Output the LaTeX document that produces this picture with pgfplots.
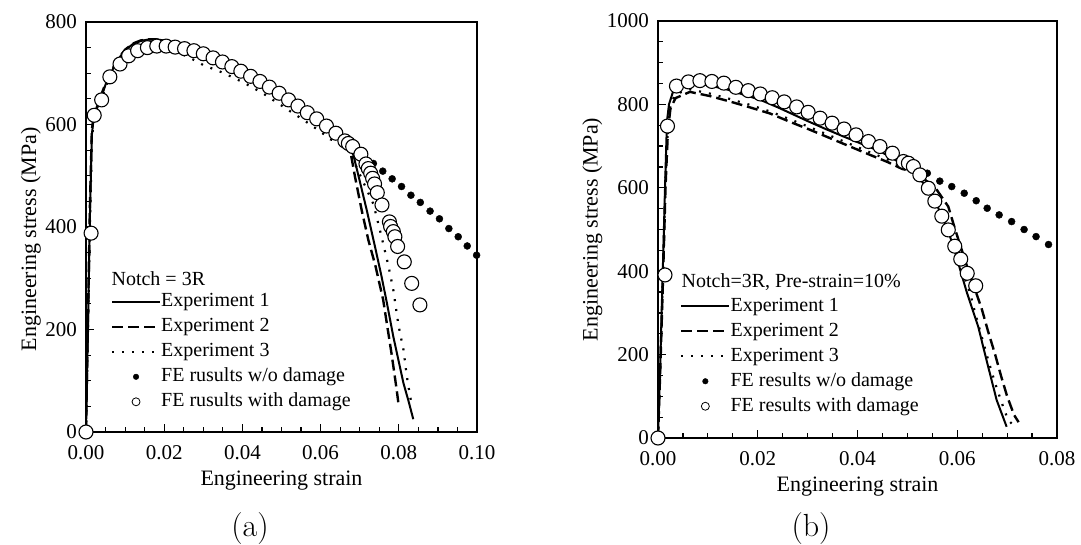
\documentclass[border=0pt]{standalone}
\usepackage{fontspec}
\setmainfont{Liberation Serif}
\usepackage{pgfplots}
\pgfplotsset{compat=1.18}

\pgfplotsset{
  tensile/.style={
    scale only axis,
    axis line style={line width=1.4pt},
    every tick/.style={black, line width=1.2pt},
    major tick length=8pt, minor tick length=5pt,
    tick align=inside, tick pos=left,
    scaled x ticks=false,
    /pgf/number format/assume math mode=true,
    /pgf/number format/1000 sep={},
    xticklabel style={inner sep=1pt, yshift=-12pt, /pgf/number format/.cd, fixed, fixed zerofill, precision=2},
    yticklabel style={inner sep=1pt, xshift=-8pt, /pgf/number format/.cd, fixed, precision=0},
    tick label style={font=\fontsize{21}{24}\selectfont},
    label style={font=\fontsize{22}{26}\selectfont},
    xlabel style={yshift=-7pt},
    minor x tick num=3, minor y tick num=3,
    legend cell align=left,
    legend style={draw=none, fill=none, inner sep=0pt,
      font=\fontsize{20}{24}\selectfont,
      nodes={inner sep=0pt, text height=14pt, text depth=4pt},
      row sep=7pt,
      /tikz/every even column/.append style={column sep=3pt}},
    xlabel={Engineering strain},
    ylabel={Engineering stress (MPa)},
  },
  exp1/.style={black, line width=2pt, no markers,
    legend image code/.code={\draw[##1] (0pt,0pt) -- (48pt,0pt);}},
  exp2/.style={black, line width=2.4pt, no markers, dash pattern=on 11pt off 5pt,
    legend image code/.code={\draw[##1] (0pt,0pt) -- (48pt,0pt);}},
  exp3/.style={black, line width=2.2pt, no markers, dash pattern=on 2pt off 8pt,
    legend image code/.code={\draw[##1] (0pt,0pt) -- (48pt,0pt);}},
  fenod/.style={only marks, mark=*, mark size=3.5pt, mark options={fill=black, draw=black},
    legend image code/.code={\draw[##1, only marks, mark size=2.8pt] plot coordinates {(24pt,0pt)};}},
  fedam/.style={only marks, mark=*, mark size=7pt,
    mark options={fill=white, draw=black, line width=1.1pt},
    legend image code/.code={\draw[##1, only marks, mark size=4pt,
      mark options={fill=white, draw=black, line width=0.8pt}] plot coordinates {(24pt,0pt)};}},
}

\begin{document}
\begin{tikzpicture}

% ---------------- (a) ----------------
\begin{axis}[tensile,
  at={(86pt,-432pt)}, anchor=south west,
  width=391pt, height=410pt,
  xmin=0, xmax=0.1, ymin=0, ymax=800,
  xtick={0,0.02,...,0.1}, ytick={0,200,...,800},
  ylabel style={at={(ticklabel cs:0.47)}},
  legend style={at={(axis cs:0.0063,272)}, anchor=north west},
]
% Experiment 1
\addplot[exp1] coordinates {
 (0,0) (0.0005,200) (0.0010,420) (0.0015,580) (0.0020,615) (0.0030,635)
 (0.0040,655) (0.0050,678) (0.0060,695) (0.0080,725) (0.0100,745)
 (0.0120,757) (0.0140,763) (0.0160,766) (0.0180,766) (0.0200,764)
 (0.0250,752) (0.0300,737) (0.0350,721) (0.0400,703) (0.0450,683)
 (0.0500,660) (0.0550,635) (0.0600,607) (0.0650,575) (0.0670,560)
 (0.0684,540) (0.0700,490) (0.0718,433) (0.0739,362) (0.0756,303)
 (0.0770,250) (0.0786,186) (0.0800,137) (0.0812,95) (0.0825,60) (0.0837,25)
};
% Experiment 2
\addplot[exp2] coordinates {
 (0,0) (0.0005,220) (0.0010,440) (0.0015,590) (0.0020,618) (0.0030,638)
 (0.0040,660) (0.0050,680) (0.0060,697) (0.0080,726) (0.0100,746)
 (0.0120,758) (0.0140,764) (0.0160,766) (0.0180,766) (0.0200,763)
 (0.0250,750) (0.0300,734) (0.0350,717) (0.0400,699) (0.0450,679)
 (0.0500,656) (0.0550,631) (0.0600,604) (0.0650,574) (0.0668,562)
 (0.0678,540) (0.0688,498) (0.0705,433) (0.0722,375) (0.0740,325)
 (0.0760,258) (0.0782,150) (0.0795,80) (0.0800,50)
};
% Experiment 3
\addplot[exp3] coordinates {
 (0,0) (0.0005,200) (0.0010,400) (0.0015,570) (0.0020,610) (0.0030,632)
 (0.0040,652) (0.0050,672) (0.0060,690) (0.0080,718) (0.0100,738)
 (0.0120,750) (0.0140,757) (0.0160,760) (0.0180,760) (0.0200,755)
 (0.0220,747) (0.0240,739) (0.0266,730) (0.0300,716) (0.0350,701)
 (0.0400,683) (0.0450,662) (0.0500,637) (0.0550,612) (0.0600,586)
 (0.0625,571) (0.0650,565) (0.0665,562) (0.0690,520) (0.0715,478)
 (0.0735,445) (0.0752,393) (0.0773,326) (0.0786,277) (0.0799,209)
 (0.0812,160) (0.0820,111) (0.0829,69) (0.0833,55)
};
% FE without damage
\addplot[fenod] coordinates {
 (0,0) (0.0013,388) (0.0021,618) (0.0040,648) (0.0061,693) (0.0087,718)
 (0.0109,734) (0.0132,744) (0.0157,750) (0.0181,753) (0.0205,753)
 (0.0228,751) (0.0252,748) (0.0276,744) (0.0300,738) (0.0325,730)
 (0.0349,722) (0.0373,713) (0.0396,704) (0.0421,694) (0.0445,684)
 (0.0469,673) (0.0494,661) (0.0518,648) (0.0542,636) (0.0566,623)
 (0.0590,611) (0.0615,597) (0.0639,583) (0.0662,568) (0.0686,554)
 (0.0710,539) (0.0735,524) (0.0759,509) (0.0783,494) (0.0807,479)
 (0.0831,462) (0.0855,448) (0.0880,431) (0.0904,416) (0.0928,397)
 (0.0952,381) (0.0975,363) (0.0999,345)
};
% FE with damage
\addplot[fedam] coordinates {
 (0,0) (0.0013,388) (0.0021,618) (0.0040,648) (0.0061,693) (0.0087,718)
 (0.0109,734) (0.0132,744) (0.0157,750) (0.0181,753) (0.0205,753)
 (0.0228,751) (0.0252,748) (0.0276,744) (0.0300,738) (0.0325,730)
 (0.0349,722) (0.0373,713) (0.0396,704) (0.0421,694) (0.0445,684)
 (0.0469,673) (0.0494,661) (0.0518,648) (0.0542,636) (0.0566,623)
 (0.0590,611) (0.0615,597) (0.0639,583) (0.0662,568) (0.0671,563)
 (0.0682,557) (0.0703,542) (0.0716,523) (0.0722,514) (0.0728,505)
 (0.0733,495) (0.0738,484) (0.0745,467) (0.0757,443) (0.0776,410)
 (0.0779,401) (0.0786,391) (0.0790,381) (0.0797,362) (0.0814,332)
 (0.0833,290) (0.0854,248)
};
\legend{Experiment 1, Experiment 2, Experiment 3, FE rusults w/o damage, FE rusults with damage}
\node[anchor=west, inner sep=0pt, font=\fontsize{20}{24}\selectfont] at (axis cs:0.0065,300) {Notch = 3R};
\end{axis}

% ---------------- (b) ----------------
\begin{axis}[tensile,
  at={(658pt,-438pt)}, anchor=south west,
  width=399pt, height=417pt,
  xmin=0, xmax=0.08, ymin=0, ymax=1000,
  xtick={0,0.02,...,0.08}, ytick={0,200,...,1000},
  legend style={at={(axis cs:0.0044,338)}, anchor=north west},
]
% Experiment 1
\addplot[exp1] coordinates {
 (0,0) (0.0005,200) (0.0010,420) (0.0015,640) (0.0018,760) (0.0022,800)
 (0.0030,830) (0.0045,850) (0.0070,850) (0.0100,846) (0.0138,836)
 (0.0170,824) (0.0205,811) (0.0240,793) (0.0271,776) (0.0300,760)
 (0.0338,740) (0.0370,724) (0.0405,707) (0.0430,695) (0.0452,683)
 (0.0480,664) (0.0500,648) (0.0520,628) (0.0540,600) (0.0555,570)
 (0.0570,530) (0.0585,485) (0.0597,440) (0.0608,395) (0.0619,350)
 (0.0642,267) (0.0662,171) (0.0679,91) (0.0699,27)
};
% Experiment 2
\addplot[exp2] coordinates {
 (0,0) (0.0005,180) (0.0010,380) (0.0015,600) (0.0020,740) (0.0025,790)
 (0.0035,815) (0.0064,830) (0.0104,820) (0.0144,807) (0.0184,793)
 (0.0225,778) (0.0265,758) (0.0305,739) (0.0345,719) (0.0385,699)
 (0.0425,679) (0.0460,662) (0.0490,645) (0.0510,640) (0.0530,625)
 (0.0559,595) (0.0582,555) (0.0595,503) (0.0620,410) (0.0649,310)
 (0.0662,255) (0.0676,200) (0.0688,148) (0.0700,100) (0.0714,55) (0.0723,38)
};
% Experiment 3
\addplot[exp3] coordinates {
 (0,0) (0.0005,190) (0.0010,400) (0.0015,620) (0.0020,750) (0.0025,800)
 (0.0035,825) (0.0064,836) (0.0104,826) (0.0144,813) (0.0184,799)
 (0.0225,783) (0.0265,764) (0.0305,745) (0.0345,725) (0.0385,705)
 (0.0425,685) (0.0460,668) (0.0490,652) (0.0510,640) (0.0530,615)
 (0.0560,555) (0.0580,505) (0.0600,440) (0.0615,385) (0.0626,347)
 (0.0636,299) (0.0649,243) (0.0662,187) (0.0676,131) (0.0692,75)
 (0.0702,43) (0.0719,23)
};
% FE without damage
\addplot[fenod] coordinates {
 (0,0) (0.0014,391) (0.0019,748) (0.0037,844) (0.0061,854) (0.0084,857)
 (0.0108,855) (0.0132,851) (0.0156,841) (0.0181,833) (0.0205,825)
 (0.0229,816) (0.0253,806) (0.0278,794) (0.0301,781) (0.0325,767)
 (0.0349,755) (0.0373,741) (0.0397,727) (0.0422,711) (0.0445,699)
 (0.0470,683) (0.0492,665) (0.0516,650) (0.0540,635) (0.0565,616)
 (0.0589,603) (0.0614,587) (0.0638,569) (0.0660,551) (0.0684,535)
 (0.0709,519) (0.0734,500) (0.0758,483) (0.0783,464)
};
% FE with damage
\addplot[fedam] coordinates {
 (0,0) (0.0014,391) (0.0019,748) (0.0037,844) (0.0061,854) (0.0084,857)
 (0.0108,855) (0.0132,851) (0.0156,841) (0.0181,833) (0.0205,825)
 (0.0229,816) (0.0253,806) (0.0278,794) (0.0301,781) (0.0325,767)
 (0.0349,755) (0.0373,741) (0.0397,727) (0.0422,711) (0.0445,699)
 (0.0470,683) (0.0492,663) (0.0502,659) (0.0512,651) (0.0525,631)
 (0.0542,599) (0.0555,568) (0.0569,532) (0.0582,499) (0.0595,460)
 (0.0607,429) (0.0620,395) (0.0637,365)
};
\legend{Experiment 1, Experiment 2, Experiment 3, FE results w/o damage, FE results with damage}
\node[anchor=west, inner sep=0pt, font=\fontsize{20}{24}\selectfont] at (axis cs:0.0047,375) {Notch=3R, Pre-strain=10\%};
\end{axis}

\node[font=\fontfamily{lmr}\fontsize{32}{36}\selectfont] at (250pt,-529pt) {(a)};
\node[font=\fontfamily{lmr}\fontsize{32}{36}\selectfont] at (811pt,-529pt) {(b)};

\pgfresetboundingbox
\useasboundingbox (0pt,0pt) rectangle (1081pt,-545pt);
\end{tikzpicture}
\end{document}
